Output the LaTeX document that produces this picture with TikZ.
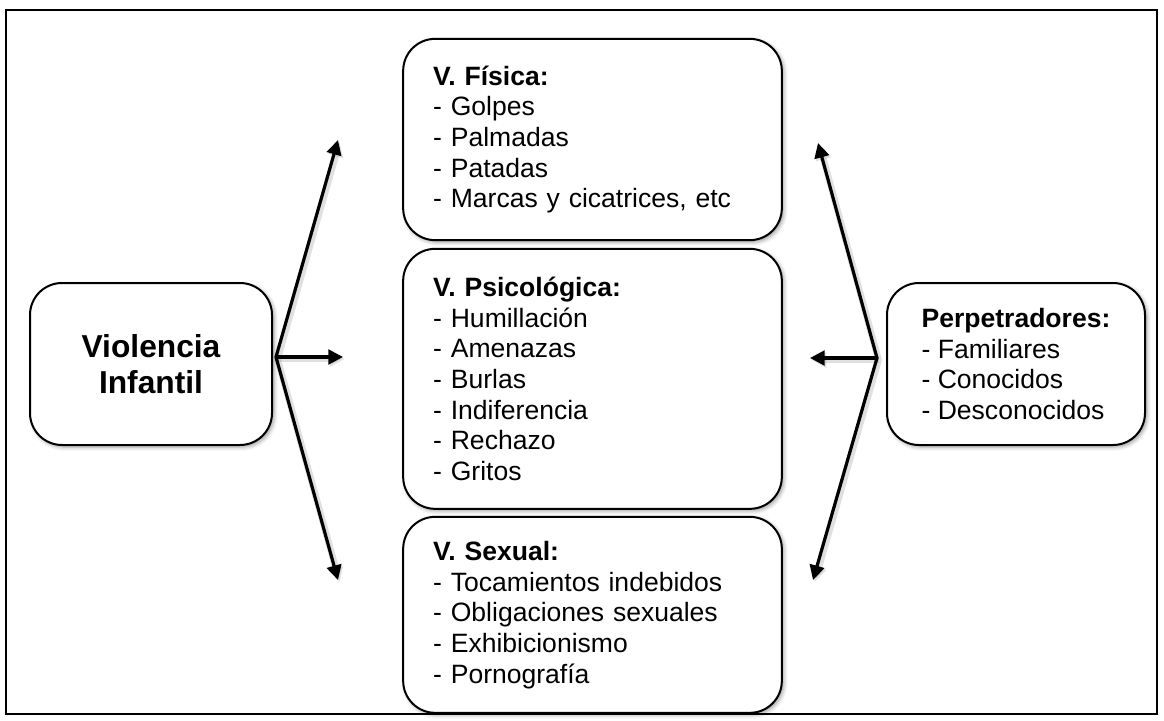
\documentclass[tikz,border=0pt]{standalone}
\usepackage{fontspec}
\setmainfont{Liberation Sans}
\usetikzlibrary{arrows.meta,positioning,shadows.blur}

\tikzset{
  catbox/.style={draw,line width=1.5pt,rounded corners=24pt,fill=white,
    blur shadow={shadow xshift=1.5pt,shadow yshift=-1.5pt,shadow blur radius=3pt},
    font=\fontsize{19.9pt}{23pt}\selectfont},
  listbox/.style={catbox,align=left,text width=239pt,inner xsep=22pt,minimum width=284pt},
  linkline/.style={line width=2.4pt,line join=miter,
    preaction={draw=black,opacity=0.12,line width=5pt,transform canvas={shift={(1.2pt,-1.5pt)}}}},
  >={Triangle[length=11pt,width=11pt]}
}

\begin{document}
\begin{tikzpicture}[x=0.75pt,y=-0.75pt]
  \useasboundingbox (0,0) rectangle (1164,721);
  \draw[line width=1.7pt] (6,10) rectangle (1157,714);

  % main box
  \node[catbox,align=center,minimum width=181.5pt,minimum height=121.5pt,
        font=\fontsize{23.8pt}{27pt}\selectfont\bfseries] (vi) at (151,364) {Violencia\\Infantil};

  % types
  \node[listbox,minimum height=151pt] (fis) at (592.5,139.5)
    {\textbf{V. Física:}\\- Golpes\\- Palmadas\\- Patadas\\- Marcas y cicatrices, etc};
  \node[listbox,minimum height=195pt,below=5pt of fis] (psi)
    {\textbf{V. Psicológica:}\\- Humillación\\- Amenazas\\- Burlas\\- Indiferencia\\- Rechazo\\- Gritos};
  \node[listbox,minimum height=147pt,below=4.5pt of psi] (sex)
    {\textbf{V. Sexual:}\\- Tocamientos indebidos\\- Obligaciones sexuales\\- Exhibicionismo\\- Pornografía};

  % who
  \node[catbox,align=left,minimum width=193.5pt,minimum height=121.5pt] (per) at (1016,364)
    {\textbf{Perpetradores:}\\- Familiares\\- Conocidos\\- Desconocidos};

  \coordinate (vo) at (276,357);
  \coordinate (vup) at (338,140);
  \coordinate (vmid) at (343,357);
  \coordinate (vdn) at (338,580);
  \coordinate (po) at (877,358);
  \coordinate (pup) at (818,143);
  \coordinate (pmid) at (810,358);
  \coordinate (pdn) at (813,580);

  \draw[linkline,<->] (vup) -- (vo) -- (vdn);
  \draw[linkline,->] (vo) -- (vmid);
  \draw[linkline,<->] (pup) -- (po) -- (pdn);
  \draw[linkline,->] (po) -- (pmid);
\end{tikzpicture}
\end{document}
